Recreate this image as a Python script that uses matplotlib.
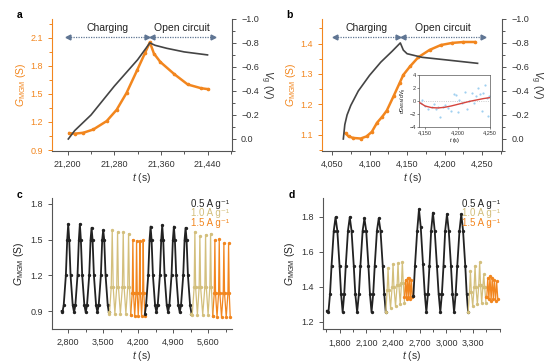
import matplotlib

matplotlib.use("Agg")
import matplotlib.pyplot as plt
from matplotlib.ticker import AutoMinorLocator, StrMethodFormatter

plt.rcParams["font.family"] = ["Liberation Sans", "DejaVu Sans"]
plt.rcParams["mathtext.fontset"] = "custom"
plt.rcParams["mathtext.rm"] = "Liberation Sans"
plt.rcParams["mathtext.it"] = "Liberation Sans:italic"
plt.rcParams["font.size"] = 7

ORANGE = "#f2861e"
TAN = "#d3bf7c"
DARK = "#222222"
GREY = "#555555"
ARROW = "#5f7593"

# ---- panel a ----
a_g_t = [21203, 21212, 21227, 21244, 21267, 21284, 21301, 21319, 21333, 21341,
         21348, 21359, 21383, 21406, 21429, 21441]
a_g = [1.08, 1.075, 1.085, 1.12, 1.21, 1.33, 1.51, 1.75, 1.94, 2.05,
       1.93, 1.84, 1.71, 1.60, 1.56, 1.55]
a_v_t = [21201, 21212, 21240, 21280, 21320, 21341, 21350, 21370, 21400, 21440]
a_v = [0.0, -0.07, -0.2, -0.44, -0.66, -0.80, -0.78, -0.755, -0.725, -0.70]
a_xticks = [21200, 21280, 21360, 21440]
a_gticks = [0.9, 1.2, 1.5, 1.8, 2.1]

# ---- panel b ----
b_g_t = [4068, 4072, 4078, 4088, 4096, 4103, 4110, 4117, 4123, 4132, 4140, 4145,
         4154, 4165, 4180, 4195, 4210, 4225, 4240]
b_g = [1.105, 1.095, 1.09, 1.088, 1.095, 1.11, 1.14, 1.16, 1.18, 1.227, 1.27, 1.297,
       1.325, 1.355, 1.379, 1.395, 1.402, 1.405, 1.405]
b_v_t = [4065, 4067, 4070, 4075, 4085, 4100, 4115, 4130, 4141, 4145, 4150, 4170, 4200, 4244]
b_v = [0.0, -0.12, -0.2, -0.28, -0.40, -0.53, -0.64, -0.73, -0.80, -0.74, -0.71, -0.68, -0.66, -0.63]
b_xticks = [4050, 4100, 4150, 4200, 4250]
b_gticks = [1.1, 1.2, 1.3, 1.4]
vticks = [0.0, -0.2, -0.4, -0.6, -0.8, -1.0]

# inset of b
ins_pts_t = [4143, 4145, 4150, 4155, 4160, 4163, 4167, 4170, 4173, 4177, 4180, 4185, 4190,
             4195, 4197, 4200, 4203, 4207, 4212, 4215, 4218, 4222, 4225, 4228, 4232, 4235,
             4238, 4240, 4242, 4245, 4247, 4249]
ins_pts = [-0.3, 0.1, -0.8, -1.2, -1.0, -0.5, -1.3, -0.9, -2.5, -1.0, -0.7, -1.1, -1.6,
           1.0, 0.9, -1.8, 0.1, -0.4, 1.4, -1.3, 0.0, 1.2, -0.3, 0.7, 2.0, 1.0,
           -1.6, 1.2, 2.5, 0.4, -2.3, 0.8]
ins_fit_t = [4142, 4150, 4160, 4170, 4180, 4190, 4200, 4210, 4220, 4230, 4240, 4250]
ins_fit = [-0.3, -0.8, -1.05, -1.1, -1.0, -0.8, -0.55, -0.3, -0.05, 0.15, 0.35, 0.5]

# ---- panel c ----
c_k1_t = [2668, 2684, 2710, 2753, 2780, 2800, 2820, 2847, 2890, 2917, 2943, 2986, 3013, 3033,
          3053, 3080, 3123, 3150, 3176, 3220, 3247, 3267, 3287, 3314, 3357, 3384, 3410, 3453,
          3480, 3500, 3520, 3547, 3590, 3612]
c_k1 = [0.90, 0.89, 0.95, 1.2, 1.5, 1.63, 1.5, 1.2, 0.95, 0.89, 0.95, 1.2, 1.5, 1.63,
        1.5, 1.2, 0.95, 0.89, 0.95, 1.2, 1.5, 1.60, 1.5, 1.2, 0.95, 0.89, 0.95, 1.2,
        1.5, 1.58, 1.5, 1.2, 0.95, 0.89]
c_t1_t = [3612, 3625, 3660, 3680, 3700, 3733, 3770, 3787, 3805, 3843, 3883, 3900, 3918, 3953,
          3990, 4007, 4025, 4050]
c_t1 = [0.89, 0.88, 1.1, 1.58, 1.1, 0.88, 1.1, 1.565, 1.1, 0.88, 1.1, 1.565, 1.1, 0.88,
        1.1, 1.55, 1.1, 0.87]
c_o1_t = [4050, 4080, 4093, 4106, 4130, 4155, 4167, 4180, 4200, 4221, 4233, 4245, 4267, 4288,
          4300, 4312, 4335]
c_o1 = [0.87, 1.05, 1.50, 1.05, 0.86, 1.05, 1.49, 1.05, 0.86, 1.05, 1.49, 1.05, 0.86, 1.05,
        1.50, 1.05, 0.86]
c_k2_t = [4335, 4357, 4400, 4427, 4447, 4467, 4494, 4537, 4564, 4590, 4633, 4660, 4680, 4700,
          4727, 4770, 4797, 4823, 4866, 4893, 4913, 4933, 4960, 5003, 5030, 5056, 5100, 5127,
          5147, 5167, 5194, 5237, 5265]
c_k2 = [0.88, 0.95, 1.2, 1.5, 1.61, 1.5, 1.2, 0.95, 0.89, 0.95, 1.2, 1.5, 1.62, 1.5,
        1.2, 0.95, 0.89, 0.95, 1.2, 1.5, 1.61, 1.5, 1.2, 0.95, 0.89, 0.95, 1.2, 1.5,
        1.60, 1.5, 1.2, 0.95, 0.88]
c_t2_t = [5265, 5280, 5318, 5333, 5348, 5383, 5418, 5433, 5448, 5490, 5532, 5547, 5562, 5597,
          5632, 5647, 5662, 5690]
c_t2 = [0.88, 0.87, 1.1, 1.565, 1.1, 0.87, 1.1, 1.53, 1.1, 0.87, 1.1, 1.54, 1.1, 0.87,
        1.1, 1.55, 1.1, 0.86]
c_o2_t = [5690, 5720, 5733, 5746, 5776, 5807, 5820, 5833, 5866, 5900, 5913, 5926, 5960, 5994,
          6007, 6020, 6040]
c_o2 = [0.86, 1.05, 1.495, 1.05, 0.85, 1.05, 1.505, 1.05, 0.85, 1.05, 1.47, 1.05, 0.85, 1.05,
        1.47, 1.05, 0.85]
c_xticks = [2800, 3500, 4200, 4900, 5600]
c_gticks = [0.9, 1.2, 1.5, 1.8]

# ---- panel d ----
d_k1_t = [1656, 1672, 1690, 1707, 1732, 1752, 1772, 1797, 1814, 1832, 1850, 1867, 1892, 1912,
          1932, 1957, 1974, 1995, 2015, 2032, 2057, 2077, 2097, 2122, 2139, 2157, 2176, 2193,
          2218, 2238, 2258, 2283, 2300, 2317]
d_k1 = [1.263, 1.255, 1.36, 1.52, 1.72, 1.797, 1.72, 1.52, 1.36, 1.255, 1.36, 1.52, 1.72, 1.797,
        1.72, 1.52, 1.36, 1.255, 1.36, 1.52, 1.72, 1.79, 1.72, 1.52, 1.36, 1.255, 1.36, 1.52,
        1.72, 1.79, 1.72, 1.52, 1.36, 1.255]
d_t1_t = [2317, 2333, 2343, 2353, 2371, 2389, 2399, 2409, 2427, 2445, 2455, 2465, 2480, 2494,
          2504, 2514, 2528]
d_t1 = [1.255, 1.38, 1.505, 1.38, 1.28, 1.40, 1.53, 1.40, 1.29, 1.41, 1.534, 1.41, 1.30, 1.42,
        1.543, 1.42, 1.31]
d_o1_t = [2528, 2540, 2551, 2562, 2573, 2584, 2595, 2606, 2617, 2628]
d_o1 = [1.34, 1.44, 1.33, 1.45, 1.34, 1.45, 1.33, 1.44, 1.34, 1.345]
d_k2_t = [2628, 2646, 2671, 2691, 2711, 2736, 2756, 2774, 2792, 2809, 2828, 2848, 2868, 2893,
          2912, 2931, 2949, 2967, 2986, 3006, 3026, 3051, 3068, 3086, 3104, 3122, 3147, 3167,
          3187, 3212, 3228, 3244]
d_k2 = [1.345, 1.52, 1.72, 1.842, 1.74, 1.53, 1.36, 1.255, 1.36, 1.52, 1.72, 1.823, 1.72, 1.52,
        1.36, 1.255, 1.36, 1.52, 1.72, 1.814, 1.72, 1.52, 1.36, 1.255, 1.36, 1.52, 1.72, 1.814,
        1.72, 1.52, 1.36, 1.255]
d_t2_t = [3244, 3260, 3270, 3280, 3296, 3312, 3322, 3332, 3348, 3364, 3374, 3384, 3397, 3410,
          3420, 3430, 3445]
d_t2 = [1.255, 1.37, 1.49, 1.37, 1.29, 1.40, 1.52, 1.40, 1.30, 1.41, 1.54, 1.41, 1.31, 1.40,
        1.47, 1.40, 1.31]
d_o2_t = [3445, 3454, 3465, 3478, 3490, 3503, 3515, 3528, 3540, 3553, 3565, 3578]
d_o2 = [1.34, 1.34, 1.45, 1.33, 1.46, 1.32, 1.45, 1.33, 1.44, 1.32, 1.43, 1.33]
d_xticks = [1800, 2100, 2400, 2700, 3000, 3300]
d_gticks = [1.2, 1.4, 1.6, 1.8]

legend_labels = ["0.5 A g\u207b\u00b9", "1.0 A g\u207b\u00b9", "1.5 A g\u207b\u00b9"]
legend_colors = [DARK, TAN, ORANGE]

TICK_FS = 6.5
LABEL_FS = 7.5


def style_axis(ax, xticks, yticks):
    ax.spines["top"].set_visible(False)
    ax.spines["right"].set_visible(False)
    for side in ("left", "bottom"):
        ax.spines[side].set_linewidth(0.8)
        ax.spines[side].set_color(GREY)
    ax.set_xticks(xticks)
    ax.set_yticks(yticks)
    ax.xaxis.set_major_formatter(StrMethodFormatter("{x:,.0f}"))
    ax.yaxis.set_major_formatter(StrMethodFormatter("{x:.1f}"))
    ax.xaxis.set_minor_locator(AutoMinorLocator(2))
    ax.tick_params(which="both", direction="out", width=0.7, colors=GREY, labelcolor="#333333",
                   labelsize=TICK_FS)
    ax.tick_params(which="major", length=3)
    ax.tick_params(which="minor", length=2)
    ax.set_xlabel("$\\it{t}$ (s)", fontsize=LABEL_FS, labelpad=1.5, color="#333333")


def add_arrow(ax, x0, x1, y, text, tx):
    ax.plot([x0, x1], [y, y], transform=ax.transAxes, color=ARROW, lw=0.9, ls=(0, (1, 1)), clip_on=False)
    ax.plot([x0], [y], marker="<", ms=3.5, color=ARROW, transform=ax.transAxes, clip_on=False)
    ax.plot([x1], [y], marker=">", ms=3.5, color=ARROW, transform=ax.transAxes, clip_on=False)
    ax.text(tx, y + 0.065, text, transform=ax.transAxes, ha="center", va="center", fontsize=7.5,
            color="#222222")


def twin_panel(rect, xlim, ylim, xticks, gticks, g_t, g, v_t, v):
    ax = fig.add_axes(rect)
    style_axis(ax, xticks, gticks)
    ax.spines["left"].set_color(ORANGE)
    ax.tick_params(axis="y", which="both", colors=ORANGE, labelcolor=ORANGE)
    ax.yaxis.set_minor_locator(AutoMinorLocator(2))
    ax.plot(g_t, g, color=ORANGE, lw=1.8, marker="o", ms=1.6, zorder=3)
    ax.set_xlim(*xlim)
    ax.set_ylim(*ylim)
    ax.set_ylabel("$G_{\\mathrm{MGM}}$ (S)", color=ORANGE, fontsize=LABEL_FS, labelpad=2)

    ax2 = ax.twinx()
    ax2.spines["top"].set_visible(False)
    ax2.spines["left"].set_visible(False)
    ax2.spines["bottom"].set_visible(False)
    ax2.spines["right"].set_color(GREY)
    ax2.spines["right"].set_linewidth(0.8)
    ax2.plot(v_t, v, color="#444444", lw=1.2, zorder=2)
    ax2.set_ylim(0.1, -1.0)
    ax2.set_yticks(vticks)
    ax2.yaxis.set_major_formatter(StrMethodFormatter("{x:.1f}"))
    ax2.yaxis.set_minor_locator(AutoMinorLocator(2))
    ax2.tick_params(which="both", direction="out", width=0.7, colors=GREY, labelcolor="#333333",
                    labelsize=TICK_FS)
    ax2.tick_params(which="major", length=3)
    ax2.tick_params(which="minor", length=2)
    ax2.set_ylabel("$V_{\\mathrm{g}}$ (V)", rotation=270, fontsize=LABEL_FS, labelpad=11, color="#333333")
    return ax, ax2


fig = plt.figure(figsize=(5.59, 3.63), dpi=100)

# a
ax_a, ax_a2 = twin_panel([0.093, 0.584, 0.322, 0.364], (21173, 21482), (0.89, 2.3),
                         a_xticks, a_gticks, a_g_t, a_g, a_v_t, a_v)
add_arrow(ax_a, 0.089, 0.528, 0.866, "Charging", 0.306)
add_arrow(ax_a, 0.556, 0.894, 0.866, "Open circuit", 0.722)

# b
ax_b, ax_b2 = twin_panel([0.5766, 0.584, 0.322, 0.364], (4037, 4277), (1.047, 1.481),
                         b_xticks, b_gticks, b_g_t, b_g, b_v_t, b_v)
add_arrow(ax_b, 0.07, 0.422, 0.866, "Charging", 0.247)
add_arrow(ax_b, 0.45, 0.891, 0.866, "Open circuit", 0.672)

ins = fig.add_axes([0.750, 0.651, 0.1265, 0.1424])
ins.scatter(ins_pts_t, ins_pts, s=2.5, color="#9fd0f0", linewidths=0, zorder=2)
ins.axhline(0, color="#bbbbbb", lw=0.6, ls=":", zorder=1)
ins.plot(ins_fit_t, ins_fit, color="#d6453d", lw=1.0, zorder=3)
ins.set_xlim(4141, 4250)
ins.set_ylim(-4, 4)
ins.set_xticks([4150, 4200, 4250])
ins.set_yticks([-4, -2, 0, 2, 4])
ins.xaxis.set_major_formatter(StrMethodFormatter("{x:,.0f}"))
ins.tick_params(direction="out", length=1.5, width=0.5, labelsize=4, pad=1, colors=GREY,
                labelcolor="#333333")
for s in ins.spines.values():
    s.set_linewidth(0.5)
    s.set_color(GREY)
ins.set_xlabel("$\\it{t}$ (s)", fontsize=4, labelpad=0.5)
ins.set_ylabel("d$G_{\\mathrm{MGM}}$/d$V_{\\mathrm{g}}$", fontsize=3.5, labelpad=0.5)

# c
ax_c = fig.add_axes([0.0925, 0.0937, 0.3225, 0.361])
style_axis(ax_c, c_xticks, c_gticks)
for tt, gg, col, lw in [(c_k1_t, c_k1, DARK, 1.3), (c_t1_t, c_t1, TAN, 0.9), (c_o1_t, c_o1, ORANGE, 0.9),
                        (c_k2_t, c_k2, DARK, 1.3), (c_t2_t, c_t2, TAN, 0.9), (c_o2_t, c_o2, ORANGE, 0.9)]:
    ax_c.plot(tt, gg, color=col, lw=lw, marker="o", ms=1.4)
ax_c.set_xlim(2470, 6075)
ax_c.set_ylim(0.75, 1.85)
ax_c.set_ylabel("$G_{\\mathrm{MGM}}$ (S)", fontsize=LABEL_FS, labelpad=3, color="#222222")
for i, (lab, col) in enumerate(zip(legend_labels, legend_colors)):
    ax_c.text(0.985, 0.955 - i * 0.072, lab, transform=ax_c.transAxes, ha="right", va="center",
              fontsize=7, color=col)

# d
ax_d = fig.add_axes([0.578, 0.0928, 0.316, 0.362])
style_axis(ax_d, d_xticks, d_gticks)
for tt, gg, col, lw in [(d_k1_t, d_k1, DARK, 1.3), (d_t1_t, d_t1, TAN, 0.9), (d_o1_t, d_o1, ORANGE, 0.9),
                        (d_k2_t, d_k2, DARK, 1.3), (d_t2_t, d_t2, TAN, 0.9), (d_o2_t, d_o2, ORANGE, 0.9)]:
    ax_d.plot(tt, gg, color=col, lw=lw, marker="o", ms=1.4)
ax_d.set_xlim(1612, 3600)
ax_d.set_ylim(1.157, 1.907)
ax_d.set_ylabel("$G_{\\mathrm{MGM}}$ (S)", fontsize=LABEL_FS, labelpad=3, color="#222222")
for i, (lab, col) in enumerate(zip(legend_labels, legend_colors)):
    ax_d.text(1.0, 0.955 - i * 0.072, lab, transform=ax_d.transAxes, ha="right", va="center",
              fontsize=7, color=col)

for x, y, lab in [(0.030, 0.959, "a"), (0.513, 0.959, "b"), (0.030, 0.463, "c"), (0.516, 0.463, "d")]:
    fig.text(x, y, lab, fontsize=7.5, fontweight="bold", ha="left", va="center")

fig.savefig("out.png", dpi=100)
